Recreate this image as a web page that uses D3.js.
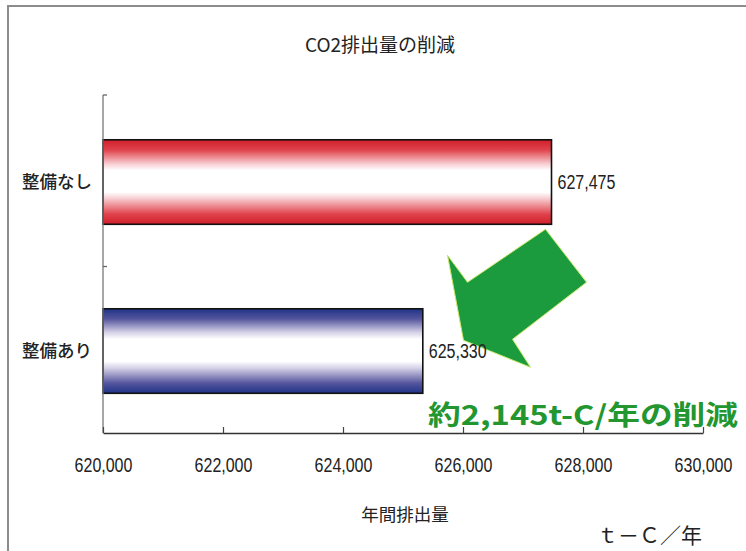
<!DOCTYPE html>
<html>
<head>
<meta charset="utf-8">
<script src="https://cdn.jsdelivr.net/npm/d3@7/dist/d3.min.js"></script>
<style>
  html, body { margin: 0; padding: 0; background: #fff; }
  svg { display: block; }
  .num { font-family: "Liberation Sans", Arial, sans-serif; }
  .jp { font-family: "Noto Sans CJK JP", "Noto Sans", sans-serif; }
</style>
</head>
<body>
<svg id="chart" width="746" height="551"></svg>
<script>
// Annual CO2 emissions, with and without the improvement (t-C / year)
const categories = ["整備なし", "整備あり"];
const emissions = [627475, 625330];
const xTicks = [620000, 622000, 624000, 626000, 628000, 630000];
const xDomain = [620000, 630000];
const titleText = "CO2排出量の削減";
const xAxisTitle = "年間排出量";
const unitText = "ｔ－Ｃ／年";

const svg = d3.select("#chart");
const W = 746, H = 551;
const plot = { left: 103, right: 703, top: 95, bottom: 433 };
const narrow = 0.8;            // horizontal squeeze for the numeric labels
const fmt = d3.format(",");

// outer frame (left and top edges)
svg.append("path")
  .attr("d", `M8,${H} L8,6 L${W},6`)
  .attr("fill", "none").attr("stroke", "#8c8c8c").attr("stroke-width", 2);

// gradients for the cylinder-like bars
const defs = svg.append("defs");
function barGradient(id, dark, mid, pale) {
  const g = defs.append("linearGradient").attr("id", id)
    .attr("x1", 0).attr("y1", 0).attr("x2", 0).attr("y2", 1);
  [[0, dark], [0.12, mid], [0.28, pale], [0.36, "#ffffff"], [0.62, "#ffffff"],
   [0.7, pale], [0.88, mid], [1, dark]].forEach(([o, c]) =>
    g.append("stop").attr("offset", o).attr("stop-color", c));
}
barGradient("gradRed", "#d01f2a", "#e0424c", "#f6c9cd");
barGradient("gradBlue", "#1f3388", "#55559d", "#d6d2e8");
const fills = ["url(#gradRed)", "url(#gradBlue)"];

const x = d3.scaleLinear().domain(xDomain).range([plot.left, plot.right]);
const y = d3.scaleBand().domain(categories)
  .range([plot.top, plot.bottom]).paddingInner(0.5).paddingOuter(0.25).align(0.53);

// title
svg.append("text").attr("class", "jp")
  .attr("x", 380).attr("y", 52).attr("text-anchor", "middle")
  .attr("font-size", 19).attr("fill", "#222")
  .text(titleText);

// bars
svg.selectAll("rect.bar").data(emissions).join("rect")
  .attr("class", "bar")
  .attr("x", x(xDomain[0]))
  .attr("y", (d, i) => y(categories[i]))
  .attr("width", d => x(d) - x(xDomain[0]))
  .attr("height", y.bandwidth())
  .attr("fill", (d, i) => fills[i])
  .attr("stroke", "#111").attr("stroke-width", 1.6);

// category labels
svg.selectAll("text.cat").data(categories).join("text")
  .attr("class", "cat jp")
  .attr("x", 92)
  .attr("y", d => y(d) + y.bandwidth() / 2 + 6)
  .attr("text-anchor", "end")
  .attr("font-size", 17.5).attr("font-weight", 500).attr("fill", "#222")
  .text(d => d);

// vertical axis with ticks on category boundaries
const yBounds = [plot.top, (y(categories[0]) + y.bandwidth() + y(categories[1])) / 2];
svg.append("line")
  .attr("x1", plot.left).attr("x2", plot.left)
  .attr("y1", plot.top).attr("y2", plot.bottom)
  .attr("stroke", "#777").attr("stroke-width", 1.3);
svg.selectAll("line.ytick").data(yBounds).join("line")
  .attr("class", "ytick")
  .attr("x1", plot.left).attr("x2", plot.left + 4)
  .attr("y1", d => d).attr("y2", d => d)
  .attr("stroke", "#666").attr("stroke-width", 1.3);

// horizontal axis: ticks pointing up, labels well below
const xAxis = d3.axisBottom(x).tickValues(xTicks)
  .tickSizeInner(-6).tickSizeOuter(0).tickPadding(25)
  .tickFormat(fmt);
const gx = svg.append("g").attr("transform", `translate(0,${plot.bottom})`).call(xAxis);
gx.select(".domain").attr("stroke", "#333").attr("stroke-width", 1.4);
gx.selectAll(".tick line").attr("stroke", "#444").attr("stroke-width", 1.2);
gx.selectAll(".tick text").attr("class", "num")
  .attr("font-size", 20).attr("fill", "#222")
  .attr("transform", `scale(${narrow},1)`);

// axis title and unit
svg.append("text").attr("class", "jp")
  .attr("x", 405).attr("y", 521).attr("text-anchor", "middle")
  .attr("font-size", 17.5).attr("fill", "#222")
  .text(xAxisTitle);
svg.append("text").attr("class", "jp")
  .attr("x", 597).attr("y", 543)
  .attr("font-size", 21).attr("fill", "#222")
  .text(unitText);

// reduction arrow from the upper bar toward the lower one
const ax = x(emissions[0]);
const ay = y(categories[0]) + y.bandwidth();
const arrowOffsets = [[-6, 5], [35, 58], [-39, 115], [-21, 143], [-88, 116], [-104, 31], [-84, 58]];
svg.append("polygon")
  .attr("points", arrowOffsets.map(([dx, dy]) => [ax + dx, ay + dy].join(",")).join(" "))
  .attr("fill", "#1c9a3e").attr("stroke", "#c9e86a").attr("stroke-width", 1)
  .attr("stroke-linejoin", "miter");

// value labels, drawn above the arrow
svg.selectAll("text.val").data(emissions).join("text")
  .attr("class", "val num")
  .attr("transform", (d, i) =>
    `translate(${x(d) + 6},${y(categories[i]) + y.bandwidth() / 2 + 7}) scale(${narrow},1)`)
  .attr("font-size", 20).attr("fill", "#222")
  .text(d => fmt(d));

// reduction callout
const reduction = emissions[0] - emissions[1];
svg.append("text").attr("class", "jp")
  .attr("x", 428).attr("y", 425)
  .attr("font-size", 27).attr("font-weight", 700).attr("fill", "#23962f")
  .attr("textLength", 310).attr("lengthAdjust", "spacingAndGlyphs")
  .text(`約${fmt(reduction)}t-C/年の削減`);
</script>
</body>
</html>
